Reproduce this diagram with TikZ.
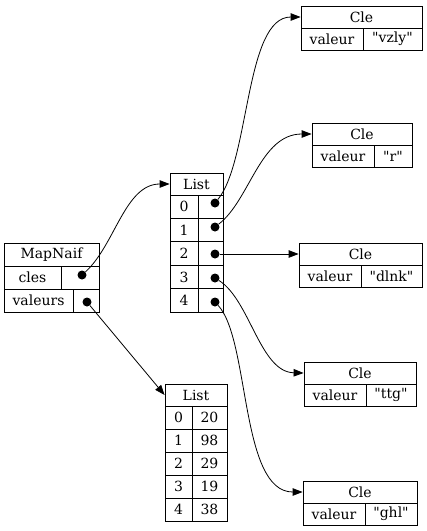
\documentclass[tikz,border=0pt]{standalone}
\usepackage{fontspec}
\setmainfont{DejaVu Serif}
\usetikzlibrary{arrows.meta}
\newcommand\recfont{\fontsize{14}{16}\selectfont}
\newcommand\dq{\textquotedbl}
\tikzset{
  cell/.style={draw, line width=0.8pt, inner sep=0pt, font=\recfont},
  port/.style={circle, fill, inner sep=0pt, minimum size=9pt},
  lien/.style={-{Triangle[length=10pt,width=7.5pt]}, line width=0.8pt}
}

\begin{document}
\begin{tikzpicture}[x=1pt,y=-1pt]
        \useasboundingbox (0,0) rectangle (427,531);
        \node[cell, minimum width=95pt, minimum height=23pt] (mh) at (51.5,254.5) {MapNaif};
        \node[cell, minimum width=57pt, minimum height=23pt] (mc) at (32.5,277.5) {cles};
        \node[cell, minimum width=38pt, minimum height=23pt] (mcp) at (80,277.5) {};
        \node[cell, minimum width=69pt, minimum height=23pt] (mv) at (38.5,300.5) {valeurs};
        \node[cell, minimum width=26pt, minimum height=23pt] (mvp) at (86,300.5) {};
        \node[port] (mcd) at (82,275) {};
        \node[port] (mvd) at (87,302) {};
        \node[cell, minimum width=53pt, minimum height=22pt] (lh) at (196.5,184) {List};
        \foreach \i/\d in {0/203,1/227,2/254,3/278,4/302} {
            \node[cell, minimum width=28pt, minimum height=23.4pt] (li\i) at (184,{206.7+23.4*\i}) {\i};
            \node[cell, minimum width=25pt, minimum height=23.4pt] (lp\i) at (210.5,{206.7+23.4*\i}) {};
            \node[port] (ld\i) at (215,\d) {};
        }
        \node[cell, minimum width=62pt, minimum height=22pt] (vh) at (196,395) {List};
        \foreach \i/\v in {0/20,1/98,2/29,3/19,4/38} {
            \node[cell, minimum width=27pt, minimum height=23pt] (vi\i) at (178.5,{417.5+23*\i}) {\i};
            \node[cell, minimum width=35pt, minimum height=23pt] (vv\i) at (209.5,{417.5+23*\i}) {\v};
        }
        \foreach \n/\x/\y/\w/\v in {1/301/6/59/vzly, 2/312/123/38/r, 3/299/243/61/dlnk, 4/304/362/50/ttg, 5/303/481/52/ghl} {
            \node[cell, minimum width={62+\w}, minimum height=22pt] (c\n) at ({\x+(62+\w)/2},{\y+11}) {Cle};
            \node[cell, minimum width=62pt, minimum height=22pt] (ck\n) at ({\x+31},{\y+33}) {valeur};
            \node[cell, minimum width=\w, minimum height=22pt] (cv\n) at ({\x+62+\w/2},{\y+33}) {\dq\v\dq};
        }
        \draw[lien] (mcd) .. controls (115,245) and (125,184) .. (lh.west);
        \draw[lien] (mvd) -- (vh.west);
        \draw[lien] (ld0) .. controls (250,160) and (245,17) .. (c1.west);
        \draw[lien] (ld1) .. controls (250,200) and (260,134) .. (c2.west);
        \draw[lien] (ld2) -- (c3.west);
        \draw[lien] (ld3) .. controls (250,300) and (260,372) .. (c4.west);
        \draw[lien] (ld4) .. controls (250,340) and (240,492) .. (c5.west);
\end{tikzpicture}
\end{document}
